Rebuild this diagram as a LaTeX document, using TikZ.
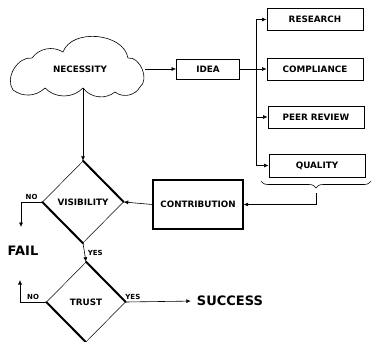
\documentclass[tikz,border=0pt]{standalone}
\usepackage{fontspec}
\setmainfont{DejaVu Sans}
\usepackage{tikz}
\usetikzlibrary{shapes,arrows.meta,decorations.pathreplacing}

\tikzset{
  box/.style={draw,rectangle,line width=0.8pt,minimum width=96pt,minimum height=22pt,inner sep=0pt,font=\fontsize{8.8}{10}\selectfont\bfseries},
  decision/.style={draw,diamond,line width=0.5pt,minimum width=81pt,minimum height=82pt,inner sep=0pt,font=\fontsize{8.8}{10}\selectfont\bfseries},
  heavy edge/.style={line width=2pt,line cap=round},
  arrow/.style={-{Latex[length=4.5pt,width=4pt]},line width=0.6pt},
  answer/.style={font=\fontsize{7}{8}\selectfont\bfseries,inner sep=0pt},
  outcome/.style={font=\fontsize{13}{15}\selectfont\bfseries,inner sep=0pt},
}

\begin{document}
\begin{tikzpicture}[x=1pt,y=-1pt]
\useasboundingbox (0,0) rectangle (372,342);

% cloud outline
\draw[line width=0.6pt] (13,90) to[bend left=66] (32,58) to[bend left=42] (63,52)
  to[bend left=75] (128,58) to[bend left=75] (140,87) to[bend left=50] (115,92)
  to[bend left=46] (83,88) to[bend left=46] (45,88) to[bend left=40] cycle;
\node[name=Necessity,font=\fontsize{8.8}{10}\selectfont\bfseries] at (80,69) {NECESSITY};
\node[name=Idea,box,minimum width=63pt,minimum height=20pt] at (208,69) {IDEA};

\node[name=Research,box] at (315,19.5) {RESEARCH};
\node[name=Compliance,box] at (315,69) {COMPLIANCE};
\node[name=Peer-Review,box] at (316,117) {PEER REVIEW};
\node[name=Quality,box,minimum height=23pt] at (317,165.5) {QUALITY};

\node[name=Contribution,box,line width=1.2pt,minimum width=90pt,minimum height=49pt] at (198,204.5) {CONTRIBUTION};

\node[name=Visibility,decision] at (83,202) {VISIBILITY};
\node[name=Trust,decision,minimum width=79pt,minimum height=80pt] at (86,302) {TRUST};

\node[name=Fail,outcome] at (23,251) {FAIL};
\node[name=Success,outcome] at (230,301) {SUCCESS};

\coordinate (Cloud-East) at (145,69);
\coordinate (Cloud-South) at (83,88);
\coordinate (Split) at (256,69);
\coordinate (Brace-Tip) at (316,193);
\coordinate (No-Fail) at (21,227);
\coordinate (No-Trust) at (20,280);

% heavy sides of the decisions
\draw[heavy edge] (Visibility.north) -- (Visibility.east);
\draw[heavy edge] (Visibility.west) -- (Visibility.south);
\draw[heavy edge] (Trust.north) -- (Trust.east);
\draw[heavy edge] (Trust.west) -- (Trust.south);

\draw[arrow] (Cloud-East) -- (Idea.west);
\draw[arrow] (Idea.east) -- (Compliance.west);
\draw[arrow] (Split) |- (Research.west);
\draw[arrow] (Split) |- (Peer-Review.west);
\draw[arrow] (Split) |- (Quality.west);

\draw[decorate,decoration={brace,mirror,amplitude=7pt},line width=0.6pt] (261,181) -- (371,181);
\draw[arrow] (Brace-Tip) |- (Contribution.east);
\draw[arrow] (Contribution.west) -- (Visibility.east);
\draw[arrow] (Cloud-South) -- (Visibility.north);

\draw[arrow] (Visibility.west) -| node[answer,pos=0.25,above=2pt] {NO} (No-Fail);
\draw[arrow] (Visibility.south) -- node[answer,right=3pt] {YES} (Trust.north);
\draw[arrow] (Trust.west) -| node[answer,pos=0.25,above=2pt] {NO} (No-Trust);
\draw[arrow,shorten >=6pt] (Trust.east) -- node[answer,pos=0.1,above=2pt] {YES} (Success.west);
\end{tikzpicture}
\end{document}
